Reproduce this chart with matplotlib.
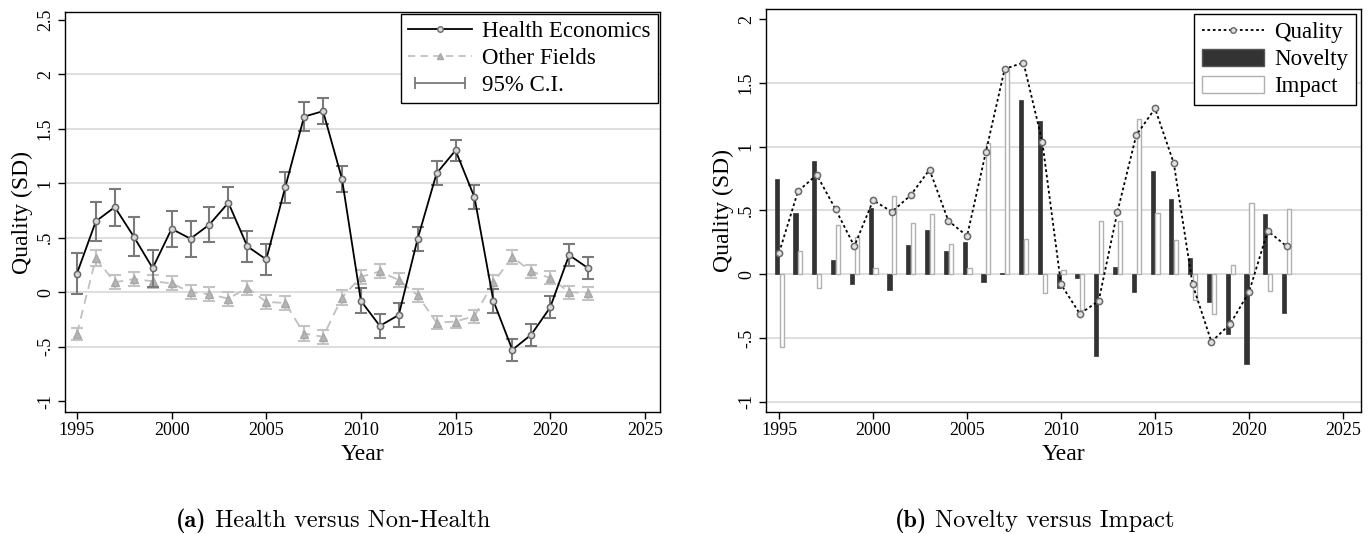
import matplotlib
matplotlib.use('Agg')
import matplotlib.pyplot as plt
from matplotlib.lines import Line2D
from matplotlib.patches import Patch
from matplotlib.legend_handler import HandlerLine2D

years = list(range(1995, 2023))
health = [0.17, 0.65, 0.78, 0.51, 0.22, 0.58, 0.49, 0.62, 0.82, 0.42, 0.30, 0.96,
          1.61, 1.66, 1.04, -0.08, -0.31, -0.21, 0.49, 1.09, 1.30, 0.87, -0.08,
          -0.53, -0.39, -0.14, 0.34, 0.22]
health_ci = [0.19, 0.18, 0.17, 0.18, 0.17, 0.165, 0.165, 0.16, 0.14, 0.14, 0.14, 0.14,
             0.13, 0.12, 0.12, 0.115, 0.11, 0.11, 0.11, 0.11, 0.10, 0.11, 0.11,
             0.10, 0.10, 0.10, 0.10, 0.10]
other = [-0.38, 0.31, 0.09, 0.12, 0.10, 0.08, 0.00, -0.02, -0.06, 0.04, -0.09, -0.10,
         -0.38, -0.41, -0.05, 0.14, 0.19, 0.11, -0.03, -0.28, -0.27, -0.22, 0.09,
         0.32, 0.19, 0.13, 0.00, -0.01]
other_ci = [0.055, 0.075, 0.065, 0.065, 0.06, 0.065, 0.065, 0.065, 0.065, 0.065, 0.065, 0.065,
            0.065, 0.065, 0.065, 0.065, 0.065, 0.065, 0.06, 0.06, 0.055, 0.06, 0.065,
            0.065, 0.06, 0.06, 0.06, 0.06]
quality = health
novelty = [0.75, 0.48, 0.89, 0.11, -0.08, 0.52, -0.12, 0.23, 0.35, 0.18, 0.25, -0.06,
           0.01, 1.37, 1.20, -0.11, -0.03, -0.64, 0.06, -0.14, 0.81, 0.59, 0.13,
           -0.22, -0.47, -0.70, 0.47, -0.30]
impact = [-0.57, 0.18, -0.11, 0.39, 0.29, 0.05, 0.61, 0.40, 0.47, 0.24, 0.05, 1.03,
          1.61, 0.28, -0.15, 0.03, -0.28, 0.42, 0.42, 1.22, 0.48, 0.27, -0.20,
          -0.31, 0.07, 0.56, -0.13, 0.51]

xticks = [1995, 2000, 2005, 2010, 2015, 2020, 2025]
left_yticks = [-1, -0.5, 0, 0.5, 1, 1.5, 2, 2.5]
left_ylabels = ['-1', '-.5', '0', '.5', '1', '1.5', '2', '2.5']
right_yticks = [-1, -0.5, 0, 0.5, 1, 1.5, 2]
right_ylabels = ['-1', '-.5', '0', '.5', '1', '1.5', '2']

serif = ['Liberation Serif', 'DejaVu Serif']
plt.rcParams['font.family'] = serif

W, H = 1371, 534
fig = plt.figure(figsize=(W / 100, H / 100), dpi=100)

def px_axes(x0, x1, y0, y1):
    return fig.add_axes([x0 / W, 1 - y1 / H, (x1 - x0) / W, (y1 - y0) / H])

ax1 = px_axes(65, 660, 12, 412)
ax2 = px_axes(766, 1361, 9, 412)

def style(ax, yt, yl, gridvals, ylim, xlim):
    ax.set_xlim(*xlim)
    ax.set_ylim(*ylim)
    ax.set_xticks(xticks)
    ax.set_xticklabels([str(x) for x in xticks], fontsize=13)
    ax.set_yticks(yt)
    ax.set_yticklabels(yl, fontsize=13, rotation=90, va='center')
    for g in gridvals:
        ax.axhline(g, color='#dedede', lw=1.4, zorder=0)
    for s in ax.spines.values():
        s.set_linewidth(1.0)
        s.set_color('black')
    ax.tick_params(axis='both', direction='out', length=5, width=1, colors='black')
    ax.tick_params(axis='y', pad=3)
    ax.tick_params(axis='x', pad=2)
    ax.set_xlabel('Year', fontsize=17, labelpad=4)
    ax.set_ylabel('Quality (SD)', fontsize=17, labelpad=3)

style(ax1, left_yticks, left_ylabels, left_yticks[1:-1], (-1.1, 2.57), (1994.37, 2025.8))
style(ax2, right_yticks, right_ylabels, right_yticks[:-1], (-1.08, 2.08), (1994.3, 2025.96))

# Left panel
ax1.errorbar(years, other, yerr=other_ci, fmt='none', ecolor='#c4c4c4', elinewidth=1.5,
             capsize=4, capthick=1.5, zorder=2)
ax1.plot(years, other, color='#c0c0c0', ls=(0, (5, 3.5)), lw=1.3, marker='^', ms=5.5,
         mfc='#b4b4b4', mec='#a8a8a8', zorder=3)
ax1.errorbar(years, health, yerr=health_ci, fmt='none', ecolor='#7a7a7a', elinewidth=1.5,
             capsize=4, capthick=1.5, zorder=4)
ax1.plot(years, health, color='black', lw=1.3, marker='o', ms=4.5, mfc='#d8d8d8',
         mec='#6a6a6a', mew=1.1, zorder=5)

h1 = Line2D([], [], color='black', lw=1.3, marker='o', ms=4, mfc='#d8d8d8', mec='#6a6a6a')
h2 = Line2D([], [], color='#c0c0c0', ls=(0, (4, 3)), lw=1.3, marker='^', ms=5,
            mfc='#b4b4b4', mec='#a8a8a8')
h3 = Line2D([], [], color='#7a7a7a', lw=1.3, marker='|', ms=8, mew=1.3)
leg1 = ax1.legend([h1, h2, h3], ['Health Economics', 'Other Fields', '95% C.I.'],
                  loc='upper right', fontsize=16.5, frameon=True, fancybox=False,
                  edgecolor='black', framealpha=1, borderaxespad=0.1, handlelength=2.8,
                  labelspacing=0.25, handletextpad=0.45, borderpad=0.3,
                  handler_map={h3: HandlerLine2D(numpoints=2)})
leg1.get_frame().set_linewidth(1.0)

# Right panel
bw = 0.22
ax2.bar([y - 0.13 for y in years], novelty, width=bw, color='#333333', edgecolor='#333333',
        lw=0.5, zorder=2)
ax2.bar([y + 0.13 for y in years], impact, width=bw, color='white', edgecolor='#b0b0b0',
        lw=1.0, zorder=2)
ax2.plot(years, quality, color='black', ls=(0, (1.5, 1.5)), lw=1.3, marker='o', ms=4.5,
         mfc='#e0e0e0', mec='#6a6a6a', mew=1.1, zorder=4)

q = Line2D([], [], color='black', ls=(0, (1.5, 1.5)), lw=1.3, marker='o', ms=4,
           mfc='#e0e0e0', mec='#6a6a6a')
nv = Patch(facecolor='#333333', edgecolor='#555555')
im = Patch(facecolor='white', edgecolor='#b0b0b0')
leg2 = ax2.legend([q, nv, im], ['Quality', 'Novelty', 'Impact'], loc='upper right',
                  fontsize=16.5, frameon=True, fancybox=False, edgecolor='black',
                  framealpha=1, borderaxespad=0.2, handlelength=2.7, handleheight=0.75,
                  labelspacing=0.25, handletextpad=0.45, borderpad=0.35)
leg2.get_frame().set_linewidth(1.0)

# Captions
def caption(xc, label, rest):
    t1 = fig.text(0, 0, label, fontsize=17.5, fontfamily='cmb10')
    t2 = fig.text(0, 0, ' ' + rest, fontsize=17.5, fontfamily='cmr10')
    fig.canvas.draw()
    r = fig.canvas.get_renderer()
    w1 = t1.get_window_extent(r).width
    w2 = t2.get_window_extent(r).width
    x0 = xc - (w1 + w2) / 2
    yb = 1 - 527 / H
    t1.set_position((x0 / W, yb))
    t2.set_position(((x0 + w1) / W, yb))

caption(333, '(a)', 'Health versus Non-Health')
caption(1035, '(b)', 'Novelty versus Impact')

fig.savefig('out.png', dpi=100)
